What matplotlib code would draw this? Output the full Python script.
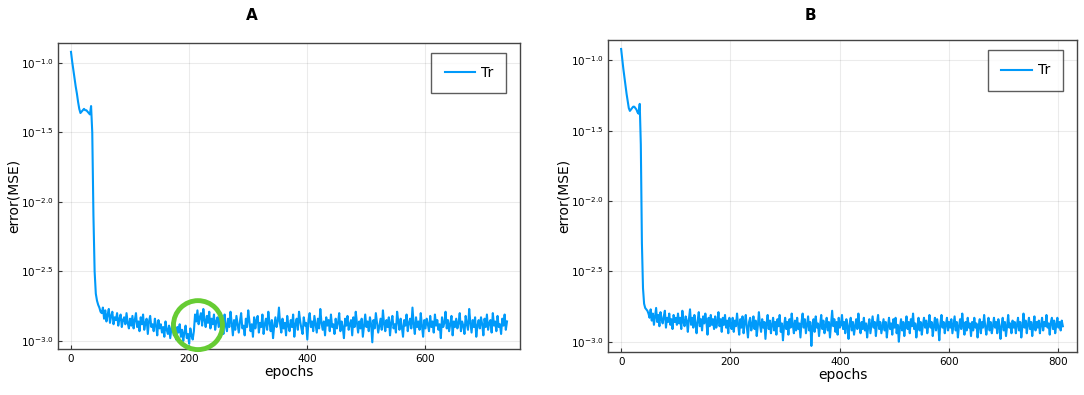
import numpy as np
import matplotlib
matplotlib.use("Agg")
import matplotlib.pyplot as plt
from matplotlib.patches import Ellipse

# log10(error) * 100, sampled every 2 epochs
step = 2
errA = [
    # epochs 0-50
    -92, -99, -105, -111, -117, -122, -128, -133, -136, -135, -134, -133, -134,
    -134, -135, -136, -137, -131, -150, -210, -250, -266, -271, -274, -276, -279,
    # 52-100
    -280, -276, -284, -278, -286, -281, -277, -287, -282, -279, -288, -283, -285,
    -280, -289, -284, -281, -290, -285, -283, -288, -280, -287, -291, -284,
    # 102-150
    -289, -282, -291, -285, -280, -290, -286, -293, -283, -288, -281, -292, -287,
    -284, -295, -286, -282, -290, -288, -293, -284, -289, -296, -285, -291,
    # 152-208
    -288, -294, -290, -297, -286, -292, -295, -289, -298, -291, -287, -296, -293,
    -299, -290, -294, -288, -297, -292, -300, -294, -289, -298, -295, -302, -291,
    -296, -299, -293,
    # 210-250
    -281, -286, -278, -288, -283, -280, -289, -277, -285, -290, -282, -287, -279,
    -291, -284, -288, -281, -292, -286, -283, -290,
    # 252-738
    -283, -291, -286, -295, -281, -289, -293, -284, -290, -279, -287, -296, -285, -292, -282, -288, -294, -286, -280, -291,
    -289, -296, -284, -290, -278, -286, -293, -288, -297, -283, -291, -285, -282, -294, -287, -290, -281, -295, -288, -284,
    -292, -279, -287, -293, -285, -298, -289, -283, -290, -286, -276, -288, -294, -284, -291, -287, -296, -282, -289, -293,
    -285, -290, -281, -297, -288, -284, -292, -279, -286, -291, -295, -283, -289, -287, -299, -285, -280, -290, -286, -293,
    -282, -288, -294, -284, -291, -277, -287, -292, -286, -296, -283, -289, -285, -293, -281, -290, -288, -295, -284, -291,
    -287, -280, -293, -286, -290, -298, -284, -289, -282, -292, -288, -285, -296, -283, -290, -279, -287, -294, -286, -291,
    -284, -297, -289, -281, -290, -286, -293, -283, -288, -301, -285, -291, -280, -287, -294, -289, -284, -292, -278, -288,
    -293, -285, -290, -283, -296, -287, -282, -291, -288, -294, -279, -286, -292, -284, -290, -297, -285, -289, -281, -293,
    -287, -284, -291, -276, -288, -295, -283, -290, -286, -292, -280, -289, -297, -285, -291, -284, -288, -293, -282, -290,
    -286, -294, -281, -289, -285, -292, -288, -298, -283, -290, -287, -279, -291, -285, -293, -288, -282, -296, -286, -290,
    -284, -291, -287, -280, -293, -286, -289, -295, -282, -288, -292, -277, -287, -294, -285, -290, -283, -297, -289, -285,
    -291, -283, -288, -296, -284, -290, -281, -292, -287, -285, -294, -280, -289, -286, -293, -282, -290, -288, -295, -284,
    -289, -281, -292, -286,
]

errB = [
    # epochs 0-50
    -92, -99, -106, -112, -118, -124, -129, -134, -136, -135, -134, -133, -133,
    -134, -135, -137, -138, -131, -160, -230, -262, -273, -276, -277, -278, -280,
    # 52-100
    -283, -277, -285, -280, -288, -282, -276, -286, -281, -289, -279, -284, -287,
    -282, -278, -290, -283, -286, -280, -288, -284, -291, -281, -286, -283,
    # 102-200
    -288, -280, -287, -283, -291, -278, -286, -289, -282, -285, -293, -284, -277, -288, -283, -290, -281, -287, -294, -285,
    -279, -289, -284, -292, -282, -287, -280, -286, -295, -283, -289, -281, -288, -284, -291, -282, -290, -286, -279, -289,
    -284, -293, -283, -288, -281, -290, -285, -294, -283, -288,
    # 202-808
    -291, -283, -293, -285, -289, -280, -288, -295, -284, -290, -282, -294, -287, -281, -290, -297, -286, -283, -292, -288,
    -282, -291, -285, -296, -289, -279, -288, -293, -284, -290, -286, -298, -287, -281, -291, -285, -294, -288, -283, -292,
    -286, -295, -284, -289, -281, -293, -287, -299, -289, -283, -291, -286, -295, -284, -290, -280, -288, -294, -285, -292,
    -283, -291, -287, -297, -286, -280, -290, -284, -294, -288, -282, -292, -286, -303, -289, -284, -293, -282, -290, -287,
    -296, -288, -281, -291, -285, -294, -289, -283, -292, -286, -297, -287, -278, -289, -284, -293, -286, -295, -283, -290,
    -288, -281, -291, -286, -294, -284, -289, -298, -287, -283, -292, -286, -295, -289, -284, -291, -280, -289, -294, -286,
    -291, -283, -292, -287, -297, -289, -284, -294, -288, -282, -290, -286, -296, -287, -281, -291, -286, -294, -289, -284,
    -292, -286, -297, -289, -283, -291, -287, -295, -284, -290, -283, -294, -288, -300, -290, -284, -292, -286, -296, -288,
    -282, -291, -286, -294, -284, -289, -280, -291, -287, -297, -289, -283, -292, -286, -295, -288, -283, -290, -285, -294,
    -288, -281, -290, -286, -296, -289, -283, -292, -284, -289, -299, -287, -281, -290, -286, -294, -288, -283, -292, -286,
    -290, -284, -294, -288, -282, -292, -286, -297, -289, -284, -291, -280, -289, -295, -286, -292, -283, -290, -287, -296,
    -286, -292, -283, -290, -287, -297, -289, -284, -294, -286, -290, -281, -289, -295, -288, -283, -292, -286, -294, -289,
    -283, -290, -286, -294, -284, -289, -298, -288, -283, -292, -286, -296, -289, -281, -290, -287, -294, -285, -290, -286,
    -294, -288, -283, -292, -286, -297, -289, -280, -290, -285, -294, -288, -283, -291, -286, -296, -288, -282, -292, -286,
    -290, -285, -294, -288, -283, -292, -286, -289, -281, -290, -287, -295, -286, -283, -291, -285, -294, -288, -283, -290,
    -286, -292, -285, -289,
]

yticks_log = [-1.0, -1.5, -2.0, -2.5, -3.0]
ytick_labels = [r"$10^{-1.0}$", r"$10^{-1.5}$", r"$10^{-2.0}$", r"$10^{-2.5}$", r"$10^{-3.0}$"]

line_col = "#009AFA"

fig = plt.figure(figsize=(10.84, 3.95), dpi=100)
axA = fig.add_axes([0.0535, 0.1165, 0.4262, 0.7747])
axB = fig.add_axes([0.5609, 0.1089, 0.4327, 0.7899])


def panel(ax, vals, xticks, xlim, ylim):
    vals = np.array(vals) / 100.0
    ep = np.arange(len(vals)) * step
    ax.plot(ep, 10 ** vals, color=line_col, lw=1.5, label="Tr")
    ax.set_yscale("log")
    ax.set_xlim(*xlim)
    ax.set_ylim(10 ** ylim[0], 10 ** ylim[1])
    ax.set_yticks([10 ** v for v in yticks_log])
    ax.set_yticklabels(ytick_labels)
    ax.minorticks_off()
    ax.set_xticks(xticks)
    ax.tick_params(direction="in", length=3, width=0.8, labelsize=7.5,
                   color="#333333")
    ax.grid(True, color="#000000", alpha=0.08, lw=0.8)
    for s in ax.spines.values():
        s.set_color("#444444")
        s.set_linewidth(1.0)
    ax.set_xlabel("epochs", fontsize=10, labelpad=1)
    ax.set_ylabel("error(MSE)", fontsize=10, labelpad=0)
    leg = ax.legend(loc="upper right", bbox_to_anchor=(0.97, 0.967),
                    borderaxespad=0, fontsize=10, fancybox=False,
                    handlelength=2.2, handletextpad=0.4, borderpad=0.95)
    leg.get_frame().set_edgecolor("#333333")
    leg.get_frame().set_linewidth(1.0)


panel(axA, errA, [0, 200, 400, 600], (-22, 760), (-3.058, -0.856))
panel(axB, errB, [0, 200, 400, 600, 800], (-24, 834), (-3.073, -0.856))

# panel letters
fig.text(252 / 1084, 1 - 15 / 395, "A", fontsize=11, fontweight="bold",
         ha="center", va="center")
fig.text(810 / 1084, 1 - 15 / 395, "B", fontsize=11, fontweight="bold",
         ha="center", va="center")

# green highlight circle around the jump near epoch 210
ring = Ellipse((0.303, 0.078), 0.106, 0.160, transform=axA.transAxes,
               fill=False, edgecolor="#66CC33", lw=3.5, clip_on=False, zorder=5)
axA.add_patch(ring)

fig.savefig("out.png", dpi=100)
